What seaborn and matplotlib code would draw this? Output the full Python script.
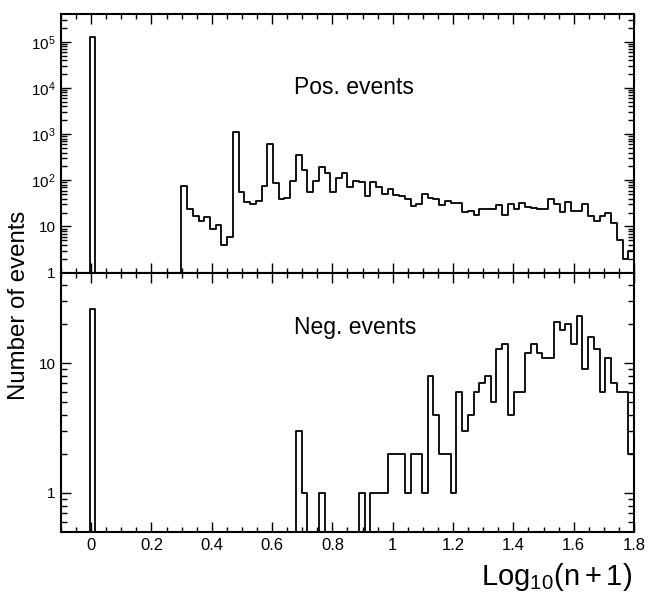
import numpy as np
import pandas as pd
import matplotlib
matplotlib.use("Agg")
import matplotlib.pyplot as plt
import seaborn as sns
from matplotlib.ticker import FixedLocator, FixedFormatter, MultipleLocator, NullFormatter

# binning of log10(n+1): 100 bins between -0.1 and 1.8
x_lo, x_hi, n_bins = -0.1, 1.8, 100
edges = np.linspace(x_lo, x_hi, n_bins + 1)
centers = 0.5 * (edges[:-1] + edges[1:])

# counts per bin (zero bins written out)
pos_counts = ([0] * 5 + [128000] + [0] * 15 +
              [75, 24, 17, 13, 16, 9, 11, 4, 6, 1130,
               56, 34, 31, 36, 75, 610, 86, 39, 42, 98,
               353, 167, 57, 98, 197, 142, 57, 110, 142, 73,
               97, 90, 46, 92, 73, 50, 64, 47, 46, 39,
               28, 31, 50, 41, 39, 29, 35, 32, 32, 21,
               22, 18, 24, 24, 24, 29, 18, 30, 24, 33,
               26, 25, 24, 24, 39, 31, 21, 34, 22, 22,
               30, 17, 13, 17, 20, 12, 5, 2, 3])
neg_counts = ([0] * 5 + [26] + [0] * 35 +
              [3, 1, 0, 0, 1, 0, 0, 0, 0, 0,
               0, 1, 0, 1, 1, 1, 2, 2, 2, 1,
               2, 2, 1, 8, 4, 2, 2, 1, 6, 3,
               4, 6, 7, 8, 5, 13, 14, 4, 6, 6,
               12, 14, 12, 11, 11, 21, 18, 20, 14, 23,
               9, 16, 13, 6, 11, 7, 6, 6, 2])

xticks = [0, 0.2, 0.4, 0.6, 0.8, 1.0, 1.2, 1.4, 1.6, 1.8]
xtick_labels = ["0", "0.2", "0.4", "0.6", "0.8", "1", "1.2", "1.4", "1.6", "1.8"]
pos_yticks = [1, 10, 100, 1000, 1e4, 1e5]
pos_ylabels = ["1", "10", r"$\mathregular{10^{2}}$", r"$\mathregular{10^{3}}$",
               r"$\mathregular{10^{4}}$", r"$\mathregular{10^{5}}$"]
neg_yticks = [1, 10]
neg_ylabels = ["1", "10"]
# 2..9 within each decade
log_minor = [m * 10.0 ** d for d in range(-1, 6) for m in range(2, 10)]

sns.set_style("ticks")
plt.rcParams["font.family"] = ["Liberation Sans", "DejaVu Sans"]
plt.rcParams["mathtext.fontset"] = "custom"
plt.rcParams["mathtext.rm"] = "Liberation Sans"
plt.rcParams["mathtext.it"] = "Liberation Sans:italic"
plt.rcParams["text.color"] = "black"
plt.rcParams["ytick.direction"] = "in"
plt.rcParams["xtick.direction"] = "in"

fig = plt.figure(figsize=(6.48, 5.92), dpi=100)
ax1 = fig.add_axes([0.0941, 0.5394, 0.8843, 0.4370])
ax2 = fig.add_axes([0.0941, 0.1014, 0.8843, 0.4380])


def draw(ax, counts, ylim, yticks, ylabels):
    df = pd.DataFrame({"x": centers, "n": counts})
    sns.histplot(data=df, x="x", weights="n", bins=list(edges), element="step", fill=False,
                 color="black", linewidth=1.3, ax=ax)
    ax.set_yscale("log")
    ax.set_xlim(x_lo, x_hi)
    ax.set_ylim(*ylim)
    ax.set_xlabel("")
    ax.set_ylabel("")
    ax.xaxis.set_major_locator(FixedLocator(xticks))
    ax.xaxis.set_minor_locator(MultipleLocator(0.05))
    ax.yaxis.set_major_locator(FixedLocator(yticks))
    ax.yaxis.set_major_formatter(FixedFormatter(ylabels))
    ax.yaxis.set_minor_locator(FixedLocator([v for v in log_minor if ylim[0] < v < ylim[1]]))
    ax.yaxis.set_minor_formatter(NullFormatter())
    ax.tick_params(which="both", direction="in", top=True, right=True, left=True, bottom=True,
                   width=1.0, colors="black", pad=4)
    ax.tick_params(axis="x", labelsize=12)
    ax.tick_params(axis="y", labelsize=11)
    ax.tick_params(axis="x", which="major", length=7)
    ax.tick_params(axis="x", which="minor", length=3.5)
    ax.tick_params(axis="y", which="major", length=7)
    ax.yaxis.set_tick_params(which="minor", length=4.5, width=1.0, color="black",
                             direction="in", left=True, right=True)
    for s in ax.spines.values():
        s.set_linewidth(1.5)
        s.set_color("black")
        s.set_visible(True)


draw(ax1, pos_counts, (1, 4e5), pos_yticks, pos_ylabels)
ax1.xaxis.set_major_formatter(NullFormatter())
ax1.text(0.407, 0.714, "Pos. events", transform=ax1.transAxes, va="center", ha="left", fontsize=16.5)

draw(ax2, neg_counts, (0.5, 50), neg_yticks, neg_ylabels)
ax2.xaxis.set_major_formatter(FixedFormatter(xtick_labels))
ax2.text(0.407, 0.789, "Neg. events", transform=ax2.transAxes, va="center", ha="left", fontsize=16.5)

fig.text(0.029, 0.485, "Number of events", rotation=90, ha="center", va="center", fontsize=17.3)
fig.text(0.975, 0.012, r"$\mathregular{Log_{10}(n+1)}$", ha="right", va="baseline", fontsize=21)

fig.savefig("out.png", dpi=100)
